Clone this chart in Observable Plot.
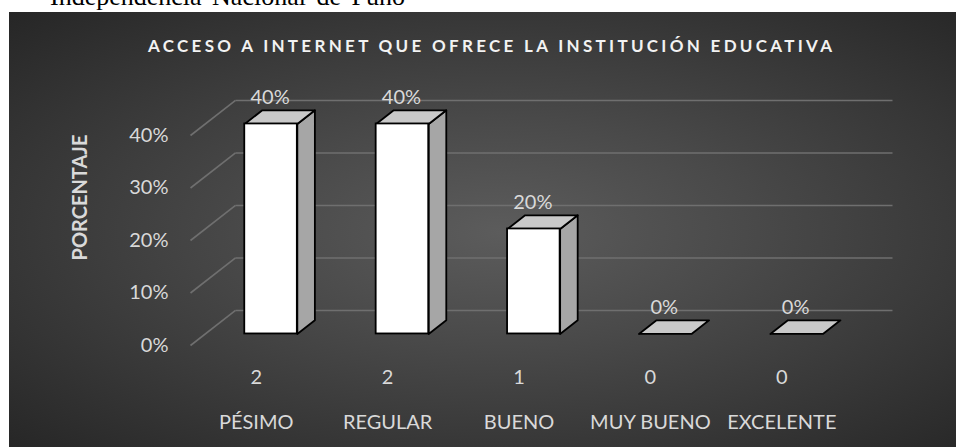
<!DOCTYPE html>
<html>
<head>
<meta charset="utf-8">
<script src="https://cdn.jsdelivr.net/npm/d3@7"></script>
<script src="https://cdn.jsdelivr.net/npm/@observablehq/plot@0.6"></script>
<style>
  html, body { margin: 0; padding: 0; background: #ffffff; }
  #page { position: relative; width: 957px; height: 447px; overflow: hidden; background: #ffffff; }
  #doctext { position: absolute; left: 50px; top: -16px; font-family: "Liberation Serif", "Times New Roman", serif; font-size: 26px; line-height: 1; color: #000; white-space: nowrap; word-spacing: 4px; }
  #panel { position: absolute; left: 9px; top: 12px; width: 947px; height: 440px;
    background: radial-gradient(ellipse farthest-corner at 52% 50%, #5c5c5c 0%, #4a4a4a 35%, #262626 100%); }
  #title { position: absolute; left: 148px; top: 37px; font-family: Lato, sans-serif; font-weight: bold; font-size: 17px; line-height: 1; letter-spacing: 3.3px; color: #f2f2f2; white-space: nowrap; }
  #chart { position: absolute; left: 0; top: 0; }
</style>
</head>
<body>
<div id="page">
  <div id="doctext">Independencia Nacional de Puno</div>
  <div id="panel"></div>
  <div id="title"></div>
  <div id="chart"></div>
</div>
<script>
// ---- data ----
const chartTitle = "ACCESO A INTERNET QUE OFRECE LA INSTITUCIÓN EDUCATIVA";
const yLabel = "PORCENTAJE";
const categories = ["PÉSIMO", "REGULAR", "BUENO", "MUY BUENO", "EXCELENTE"];
const counts = [2, 2, 1, 0, 0];
const percents = [0.40, 0.40, 0.20, 0, 0];
const yTicks = [0, 0.1, 0.2, 0.3, 0.4];

document.getElementById("title").textContent = chartTitle;

// ---- oblique 3D projection (depth expressed in data units) ----
const DX = 0.3425;   // wall depth along x (category units)
const DY = 0.0667;   // wall depth along y (value units)
const zf = 0.33, zb = 0.72; // bar front / back depth
const hw = 0.2;      // half bar width (category units)
const px = (x, z) => x + z * DX;
const py = (y, z) => y + z * DY;

const bars = categories.map((c, i) => ({i, c, v: percents[i], n: counts[i]}));
const tops = [], sides = [];
bars.forEach(d => {
  const x0 = d.i + 0.5 - hw, x1 = d.i + 0.5 + hw;
  const t = [[x0, d.v, zf], [x1, d.v, zf], [x1, d.v, zb], [x0, d.v, zb], [x0, d.v, zf]];
  t.forEach(([x, y, z], k) => tops.push({id: d.i, k, X: px(x, z), Y: py(y, z)}));
  if (d.v > 0) {
    const s = [[x1, 0, zf], [x1, d.v, zf], [x1, d.v, zb], [x1, 0, zb], [x1, 0, zf]];
    s.forEach(([x, y, z], k) => sides.push({id: d.i, k, X: px(x, z), Y: py(y, z)}));
  }
});

const grid = "#6f6f6f";
const txt = "#d9d9d9";
const pct = d3.format(".0%");

const plot = Plot.plot({
  width: 957,
  height: 447,
  marginLeft: 190,
  marginRight: 110,
  marginTop: 135,
  marginBottom: 102,
  x: {domain: [0, 5], axis: null},
  y: {domain: [0, 0.4], axis: null},
  style: {background: "transparent", fontFamily: "Lato, sans-serif", overflow: "visible"},
  marks: [
    // back wall gridlines
    Plot.link(yTicks, {x1: () => DX, x2: () => 5 + DX, y1: t => t + DY, y2: t => t + DY, stroke: grid, strokeWidth: 1.6}),
    // side wall diagonals
    Plot.link(yTicks, {x1: () => 0, x2: () => DX, y1: t => t, y2: t => t + DY, stroke: grid, strokeWidth: 1.6}),
    // y tick labels
    Plot.text(yTicks, {x: () => 0, y: t => t, text: t => pct(t), textAnchor: "end", dx: -22, fill: txt, fontSize: 20}),
    // y axis label
    Plot.text([yLabel], {frameAnchor: "left", text: d => d, rotate: -90, dx: -110, dy: 20, fill: txt, fontSize: 20, fontWeight: "bold"}),
    // bar sides
    Plot.line(sides, {x: "X", y: "Y", z: "id", fill: "#a6a6a6", stroke: "black", strokeWidth: 1.8, strokeLinejoin: "round"}),
    // bar tops
    Plot.line(tops, {x: "X", y: "Y", z: "id", fill: "#c9c9c9", stroke: "black", strokeWidth: 1.8, strokeLinejoin: "round"}),
    // bar fronts
    Plot.rect(bars.filter(d => d.v > 0), {
      x1: d => px(d.i + 0.5 - hw, zf), x2: d => px(d.i + 0.5 + hw, zf),
      y1: () => py(0, zf), y2: d => py(d.v, zf),
      fill: "#ffffff", stroke: "black", strokeWidth: 1.8
    }),
    // percentage labels
    Plot.text(bars, {x: d => px(d.i + 0.5, zf), y: d => py(d.v, zb), text: d => pct(d.v), dy: -13, dx: -1, fill: txt, fontSize: 20}),
    // counts
    Plot.text(bars, {x: d => d.i + 0.5, y: () => 0, text: d => String(d.n), dy: 32, fill: txt, fontSize: 20}),
    // category labels
    Plot.text(bars, {x: d => d.i + 0.5, y: () => 0, text: d => d.c, dy: 77, fill: txt, fontSize: 20})
  ]
});
document.getElementById("chart").appendChild(plot);
</script>
</body>
</html>
